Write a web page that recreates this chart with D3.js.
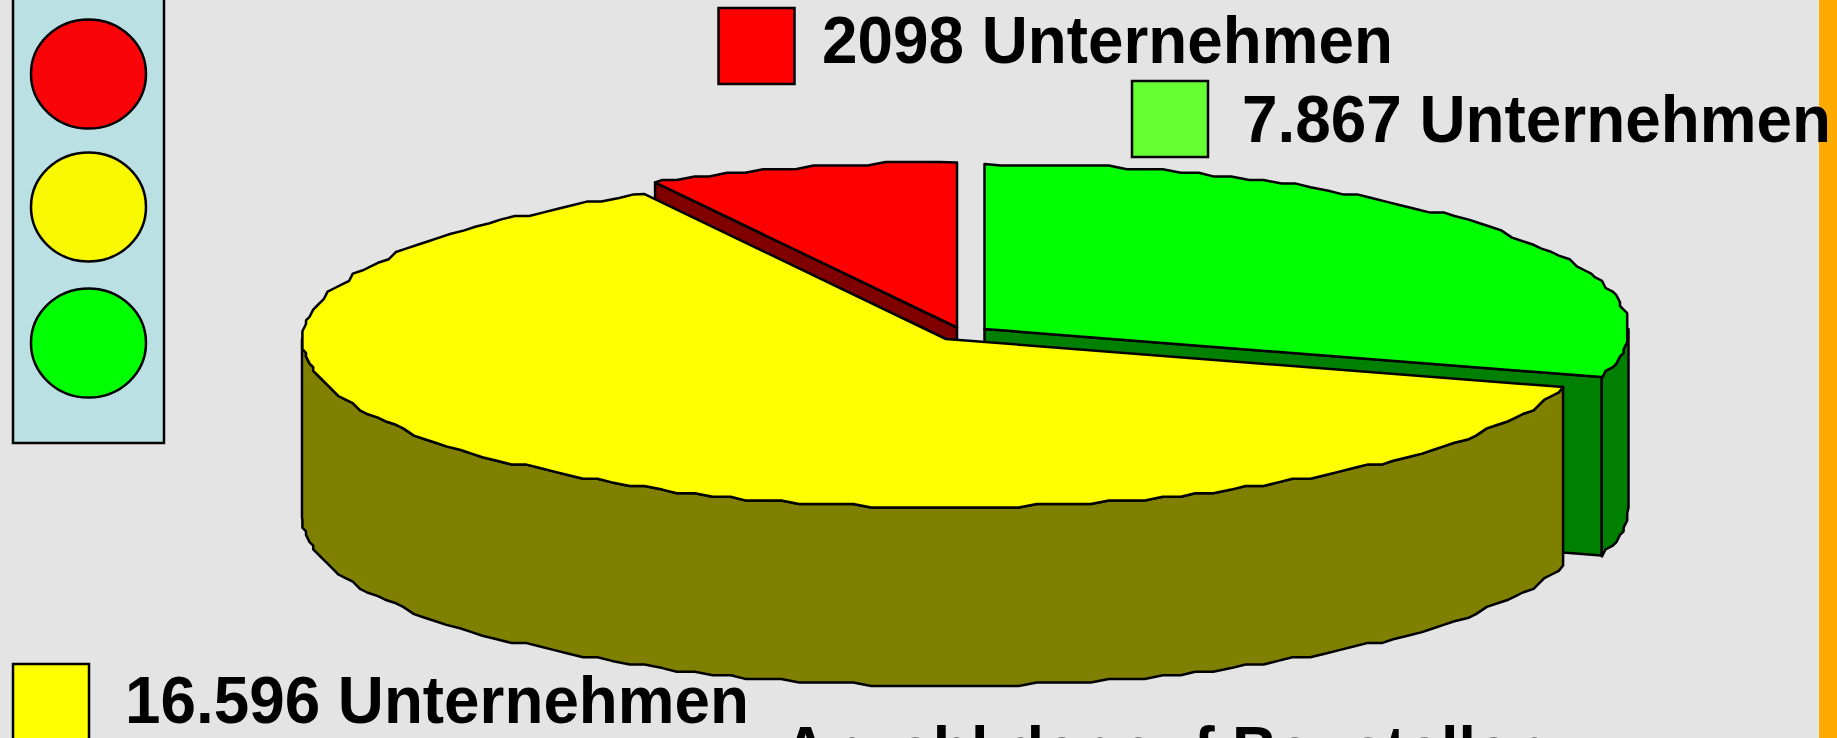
<!DOCTYPE html>
<html>
<head>
<meta charset="utf-8">
<script src="https://cdn.jsdelivr.net/npm/d3@7"></script>
<style>
html, body { margin: 0; padding: 0; background: #e4e4e4; overflow: hidden; }
svg { display: block; }
text { font-family: "Liberation Sans", Arial, sans-serif; font-weight: bold; fill: #000; }
</style>
</head>
<body>
<svg id="chart" width="1837" height="738"></svg>
<script>
// Anzahl Unternehmen je Ampelfarbe
const categories = ['gruen', 'gelb', 'rot'];
const values = [7867, 16596, 2098];
const labels = ['7.867 Unternehmen', '16.596 Unternehmen', '2098 Unternehmen'];
const topColors = ['#00ff00', '#ffff00', '#ff0000'];
const sideColors = ['#008000', '#808000', '#800000'];
const legendColors = ['#66ff33', '#ffff00', '#ff0000'];
const lampColors = ['#f90408', '#f8f800', '#00ff00'];
const footer = 'Anzahl der auf Baustellen';

const svg = d3.select('#chart');
const rx = 644, ryBack = 165, ryFront = 168, depth = 178.5;
const lineWidth = 2.5;
const grid = 3.6;     // die Kanten im Original sind grob gerastert
const STEP = Math.PI / 110;

// Mittelpunkte der herausgezogenen Stuecke
const centers = {gruen: [984.5, 329], gelb: [946, 339], rot: [957, 327.5]};

const pie = d3.pie().sort(null).value(d => d.value);
const slices = pie(categories.map((c, i) => ({name: c, value: values[i], i})));

const outline = d3.line().curve(d3.curveLinear);
const snap = v => Math.round(v / grid) * grid;

function point(c, a) {
    const cos = Math.cos(a), back = cos > 0;
    // hintere Haelfte leicht perspektivisch verkuerzt
    const shrink = back ? 1 - 0.02 * cos * cos : 1;
    return [c[0] + rx * shrink * Math.sin(a), c[1] - (back ? ryBack : ryFront) * cos];
}

function rim(c, a0, a1, dy = 0) {
    // Ellipsenbogen von a0 nach a1 (Winkel wie d3.pie, im Uhrzeigersinn ab 12 Uhr)
    // feste Winkelstufen, damit Deckel und Wand dieselben Punkte haben
    const lo = Math.min(a0, a1), hi = Math.max(a0, a1);
    const inner = d3.range(Math.ceil(lo / STEP + 0.01), hi / STEP - 0.01).map(k => {
        const p = point(c, k * STEP);
        const x = Math.max(c[0] - rx, Math.min(c[0] + rx, snap(p[0])));
        return [x, snap(p[1]) + dy];
    });
    const start = point(c, lo), end = point(c, hi);
    const pts = [[start[0], start[1] + dy], ...inner, [end[0], end[1] + dy]];
    return a0 <= a1 ? pts : pts.reverse();
}

function drawPoly(pts, fill) {
    return svg.append('path')
        .attr('d', outline(pts) + 'Z')
        .attr('fill', fill)
        .attr('stroke', '#000')
        .attr('stroke-width', lineWidth)
        .attr('stroke-linejoin', 'round');
}

function drawWall(c, a0, a1, fill) {
    const top = rim(c, a0, a1), bottom = rim(c, a0, a1, depth).reverse();
    drawPoly(top.concat(bottom), fill);
}

function drawCut(c, a, fill) {
    const p = point(c, a);
    drawPoly([c, p, [p[0], p[1] + depth], [c[0], c[1] + depth]], fill);
}

function drawTop(c, s) {
    drawPoly([c].concat(rim(c, s.startAngle, s.endAngle)), topColors[s.data.i]);
}

// Hintergrund, Balken rechts
svg.append('rect').attr('width', 1837).attr('height', 738).attr('fill', '#e4e4e4');
svg.append('rect').attr('x', 1819).attr('width', 18).attr('height', 738).attr('fill', '#ffaa00');

// Ampel
svg.append('rect').attr('x', 13).attr('y', -10).attr('width', 151).attr('height', 453)
    .attr('fill', '#bbe0e3').attr('stroke', '#000').attr('stroke-width', lineWidth);
svg.selectAll('ellipse.lamp').data(lampColors).join('ellipse')
    .attr('class', 'lamp')
    .attr('cx', 88.5)
    .attr('cy', (d, i) => [74, 207, 343][i])
    .attr('rx', 57.5)
    .attr('ry', 54.5)
    .attr('fill', d => d)
    .attr('stroke', '#000')
    .attr('stroke-width', lineWidth);

// Tortenstuecke von hinten nach vorne
const [gruen, gelb, rot] = slices;
drawWall(centers.gruen, gruen.endAngle, Math.PI / 2, sideColors[0]);
drawCut(centers.gruen, gruen.endAngle, sideColors[0]);
drawTop(centers.gruen, gruen);
drawCut(centers.rot, rot.startAngle, sideColors[2]);
drawTop(centers.rot, rot);
drawWall(centers.gelb, gelb.startAngle, Math.PI * 1.5, sideColors[1]);
drawTop(centers.gelb, gelb);

// Legende, Schrift im Original schmal gestaucht
const legend = [
    {i: 2, x: 718.5, y: 8, tx: 822, ty: 63, w: 571},
    {i: 0, x: 1132, y: 81, tx: 1242, ty: 142, w: 589},
    {i: 1, x: 13, y: 664, tx: 125, ty: 723, w: 624}
];
svg.selectAll('rect.key').data(legend).join('rect')
    .attr('class', 'key')
    .attr('x', d => d.x).attr('y', d => d.y)
    .attr('width', 76).attr('height', 76)
    .attr('fill', d => legendColors[d.i])
    .attr('stroke', '#000').attr('stroke-width', lineWidth);
svg.selectAll('text.label').data(legend).join('text')
    .attr('class', 'label')
    .attr('x', d => d.tx).attr('y', d => d.ty)
    .attr('font-size', 67)
    .attr('textLength', d => d.w)
    .attr('lengthAdjust', 'spacingAndGlyphs')
    .text(d => labels[d.i]);

svg.append('text')
    .attr('x', 783).attr('y', 772.5)
    .attr('font-size', 67)
    .attr('textLength', 766)
    .attr('lengthAdjust', 'spacingAndGlyphs')
    .text(footer);
</script>
</body>
</html>
